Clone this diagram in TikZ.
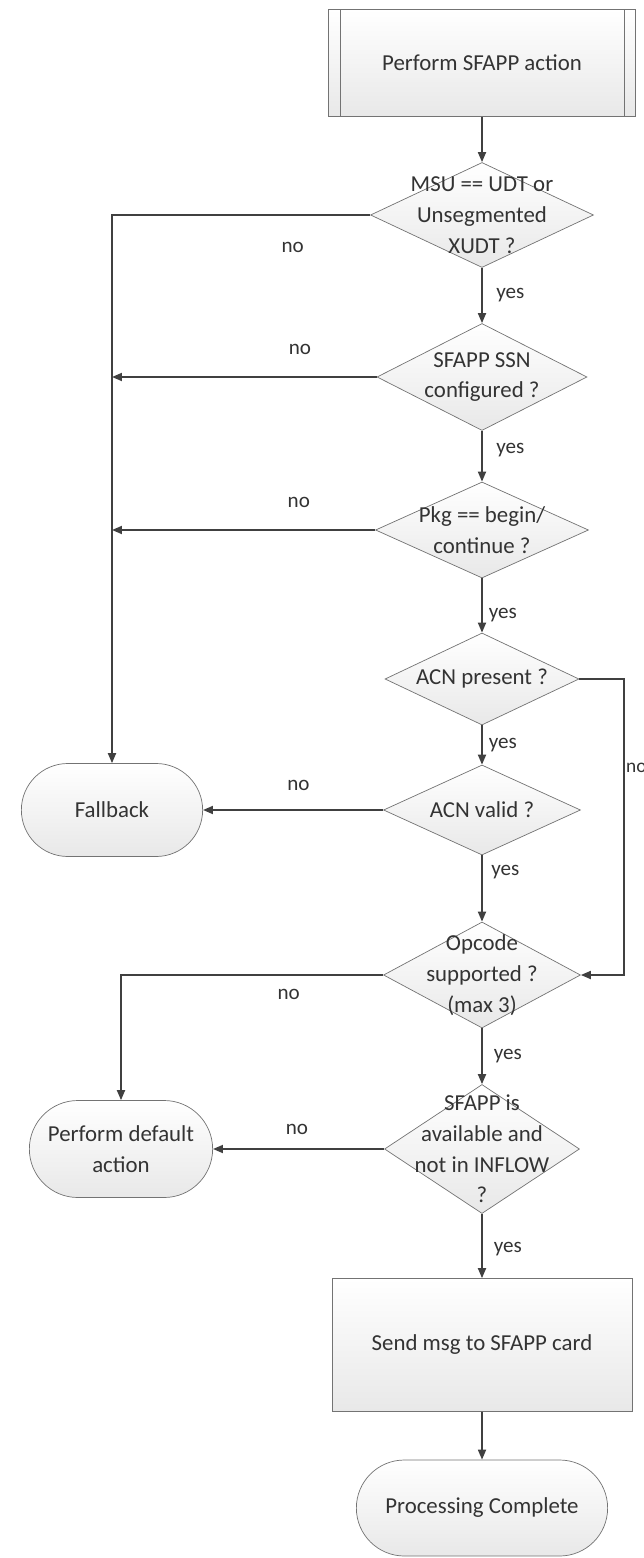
\documentclass[tikz,border=0pt]{standalone}
\usepackage{fontspec}
\setmainfont{Carlito}
\usetikzlibrary{shapes.geometric,shapes.misc,arrows.meta,positioning}

\begin{document}
\begin{tikzpicture}[font=\fontsize{13}{17.5}\selectfont]
    \tikzstyle{every node} = [align=center, text=black!80]
    \tikzstyle{proc} = [rectangle, draw=black!55, top color=white, bottom color=black!9]
    \tikzstyle{dec} = [diamond, draw=black!55, inner sep=0pt, top color=white, bottom color=black!9]
    \tikzstyle{term} = [rounded rectangle, draw=black!55, top color=white, bottom color=black!9]
    \tikzstyle{arr} = [draw=black!75, line width=1pt, -{Triangle[length=0.2cm, width=0.16cm]}]
    \tikzstyle{lbl} = [font=\fontsize{12}{14}\selectfont, inner sep=2pt]

    \useasboundingbox (-9.64,1.26) rectangle (3.24,-29.9);

    \node[proc, minimum width=6.14cm, minimum height=2.14cm](start){Perform SFAPP action};
    \draw[black!55] ([xshift=0.24cm]start.north west) -- ([xshift=0.24cm]start.south west);
    \draw[black!55] ([xshift=-0.24cm]start.north east) -- ([xshift=-0.24cm]start.south east);

    \node[dec, minimum width=4.46cm, minimum height=2.1cm, below of=start, node distance=3.04cm,
        label={center:MSU == UDT or\\Unsegmented\\XUDT ?}](d1){};
    \node[dec, minimum width=4.2cm, minimum height=2.14cm, below of=d1, node distance=3.24cm,
        label={center:SFAPP SSN\\configured ?}](d2){};
    \node[dec, minimum width=4.26cm, minimum height=1.92cm, below of=d2, node distance=3.06cm,
        label={center:Pkg == begin/\\continue ?}](d3){};
    \node[dec, minimum width=3.88cm, minimum height=1.84cm, below of=d3, node distance=2.98cm,
        label={center:ACN present ?}](d4){};
    \node[dec, minimum width=3.94cm, minimum height=1.8cm, below of=d4, node distance=2.62cm,
        label={center:ACN valid ?}](d5){};
    \node[dec, minimum width=3.94cm, minimum height=2.12cm, below of=d5, node distance=3.3cm,
        label={center:Opcode\\supported ?\\(max 3)}](d6){};
    \node[dec, minimum width=3.9cm, minimum height=2.58cm, below of=d6, node distance=3.48cm,
        label={center:SFAPP is\\available and\\not in INFLOW\\?}](d7){};
    \node[proc, minimum width=6cm, minimum height=2.66cm, below of=d7, node distance=3.92cm](send){Send msg to SFAPP card};
    \node[term, minimum width=5.26cm, minimum height=1.92cm, below of=send, node distance=3.26cm](done){Processing Complete};

    \node[term, minimum width=3.86cm, minimum height=1.86cm, left of=d5, node distance=7.4cm](fb){Fallback};
    \node[term, minimum width=3.9cm, minimum height=1.94cm, left of=d7, node distance=7.22cm](dft){Perform default\\action};

    \draw[arr] (start) -- (d1);
    \draw[arr] (d1.west) -| node[lbl, pos=0.15, below=0.45cm](no1){no} (fb.north);
    \draw[arr] (d1) -- node[lbl, right=0.2cm](yes1){yes} (d2);
    \draw[arr] (d2.west) -- node[lbl, pos=0.29, above=0.35cm](no2){no} (d2.west -| fb.north);
    \draw[arr] (d2) -- node[lbl, pos=0.38, right=0.2cm](yes2){yes} (d3);
    \draw[arr] (d3.west) -- node[lbl, pos=0.29, above=0.35cm](no3){no} (d3.west -| fb.north);
    \draw[arr] (d3) -- node[lbl, pos=0.67, right=0.05cm](yes3){yes} (d4);
    \draw[arr] (d4) -- node[lbl, right=0.05cm](yes4){yes} (d5);
    \draw[arr] (d4.east) -- ++(0.9,0) |- node[lbl, font=\fontsize{11}{13}\selectfont, pos=0.15, right=0pt, inner sep=0.5pt](no4){no} (d6.east);
    \draw[arr] (d5.west) -- node[lbl, pos=0.47, above=0.3cm](no5){no} (fb.east);
    \draw[arr] (d5) -- node[lbl, pos=0.25, right=0.1cm](yes5){yes} (d6);
    \draw[arr] (d6.west) -| node[lbl, pos=0.18, below=0.2cm](no6){no} (dft.north);
    \draw[arr] (d6) -- node[lbl, right=0.15cm](yes6){yes} (d7);
    \draw[arr] (d7.west) -- node[lbl, pos=0.51, above=0.2cm](no7){no} (dft.east);
    \draw[arr] (d7) -- node[lbl, pos=0.55, right=0.15cm](yes7){yes} (send);
    \draw[arr] (send) -- (done);
\end{tikzpicture}
\end{document}
